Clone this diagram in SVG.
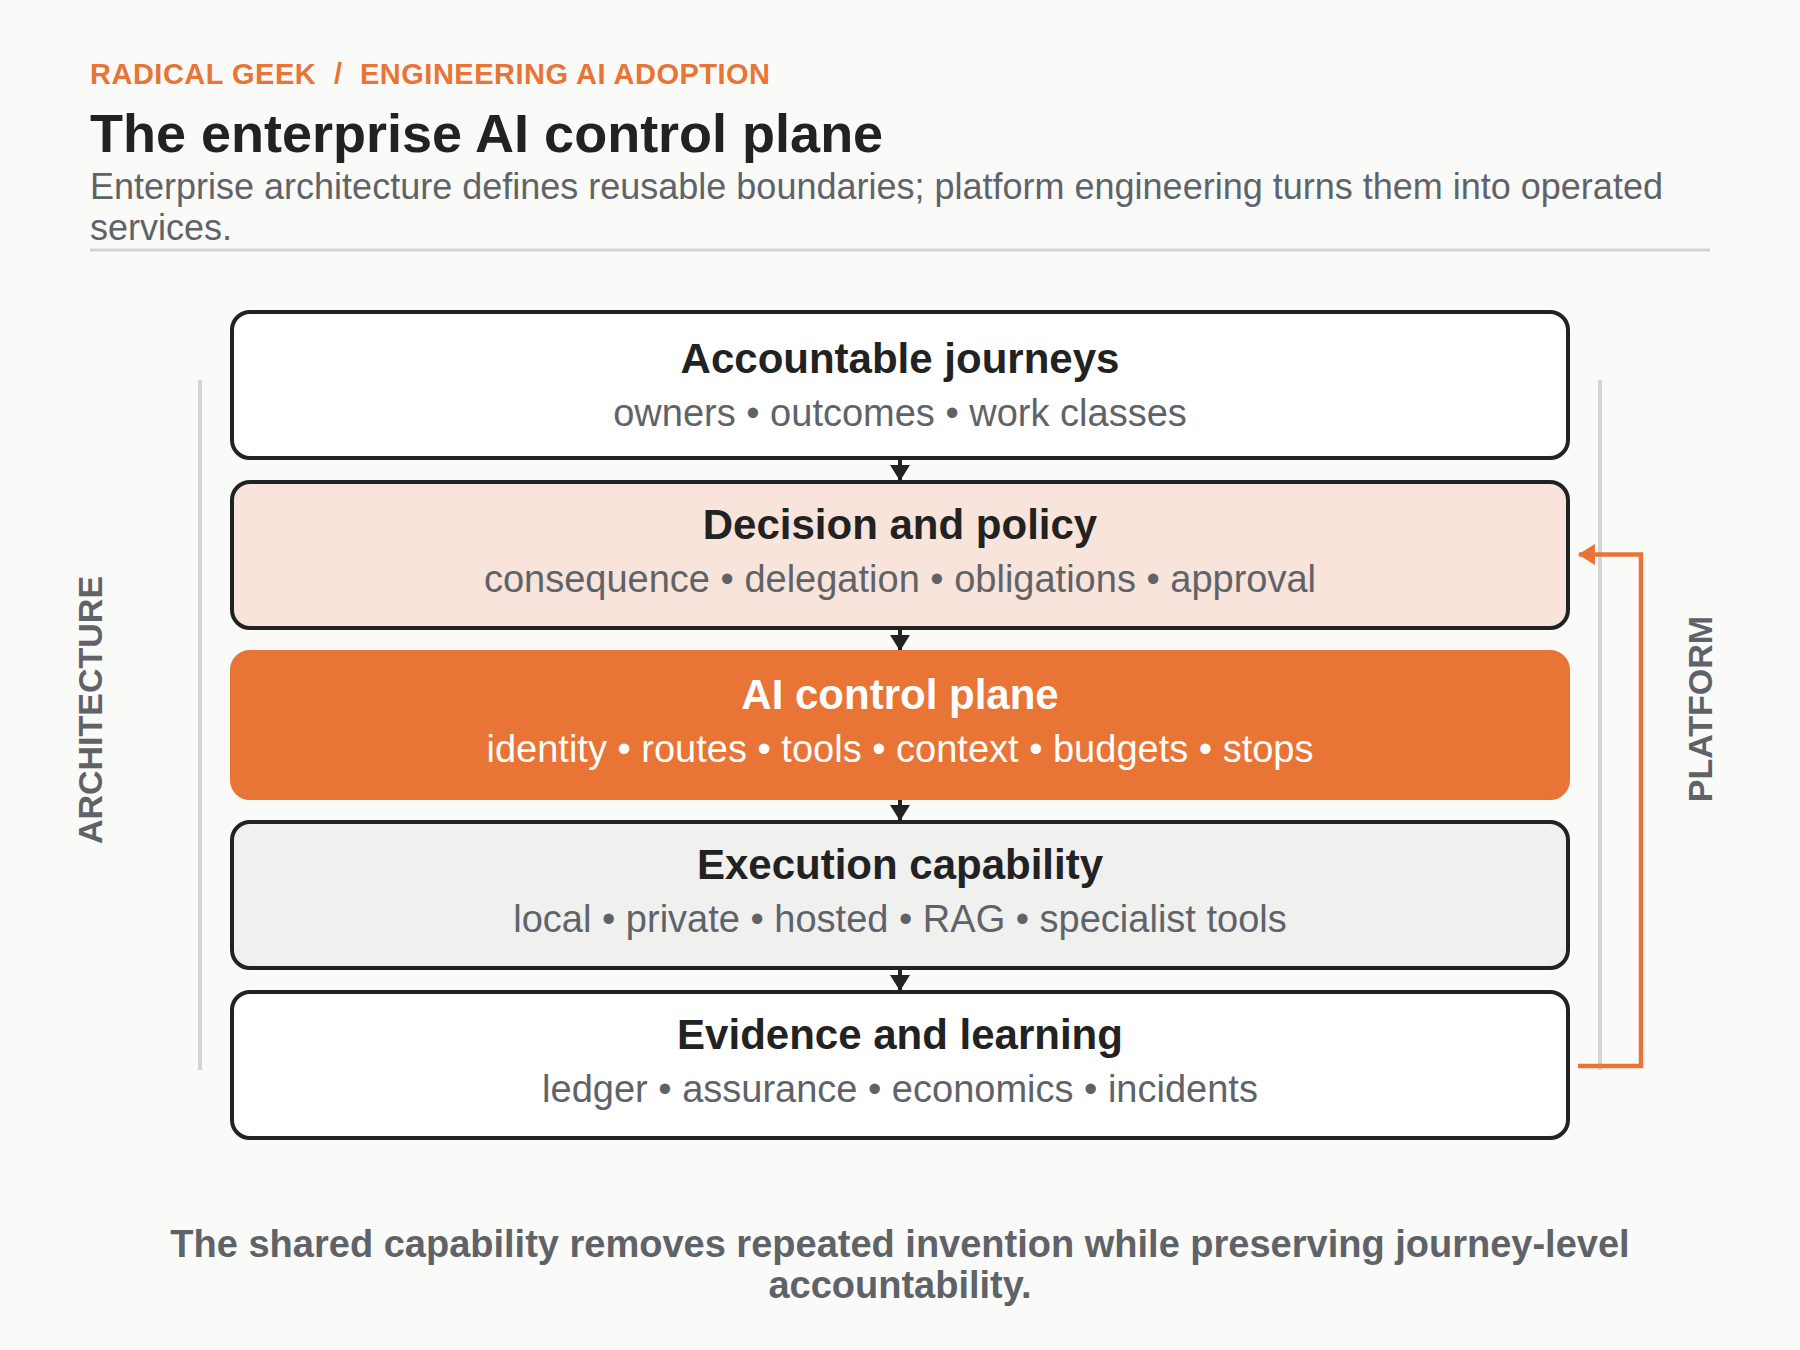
<svg xmlns="http://www.w3.org/2000/svg" width="1800" height="1350" viewBox="0 0 1800 1350">
<style>
text{font-family:"Liberation Sans",Arial,sans-serif}
.eyebrow{font-size:29px;font-weight:700;fill:#e87435;letter-spacing:0.5px}
.title{font-size:54px;font-weight:700;fill:#222222}
.sub{font-size:36px;fill:#5f6368}
.box{stroke:#222222;stroke-width:4}
.nt{font-size:42px;font-weight:700;fill:#222222;text-anchor:middle}
.ns{font-size:38px;fill:#5f6368;text-anchor:middle}
.side{font-size:34px;font-weight:700;fill:#5f6368;text-anchor:middle}
.foot{font-size:38px;font-weight:700;fill:#5f6368;text-anchor:middle}
.rail{stroke:#d4d4d4;stroke-width:4}
.flow{stroke:#222222;stroke-width:4;fill:none}
.loop{stroke:#e87435;stroke-width:4.5;fill:none}
</style>
<defs>
<marker id="ah" viewBox="0 0 16 20" markerUnits="userSpaceOnUse" markerWidth="16" markerHeight="20" refX="16" refY="10" orient="auto">
<path d="M0,0 L16,10 L0,20 z" fill="#222222"/>
</marker>
<marker id="ahO" viewBox="0 0 17 21" markerUnits="userSpaceOnUse" markerWidth="17" markerHeight="21" refX="16" refY="10.5" orient="auto">
<path d="M0,0 L17,10.5 L0,21 z" fill="#e87435"/>
</marker>
</defs>
<rect x="0" y="0" width="1800" height="1350" fill="#fafaf8"/>

<g id="header">
<text class="eyebrow" y="84"><tspan x="90">RADICAL GEEK</tspan><tspan x="334">/</tspan><tspan x="360">ENGINEERING AI ADOPTION</tspan></text>
<text class="title" x="90" y="152">The enterprise AI control plane</text>
<text class="sub" x="90" y="199">Enterprise architecture defines reusable boundaries; platform engineering turns them into operated</text>
<text class="sub" x="90" y="240">services.</text>
<line x1="90" y1="250" x2="1710" y2="250" stroke="#d4d4d4" stroke-width="3"/>
</g>

<g id="rails">
<line class="rail" x1="200" y1="380" x2="200" y2="1070"/>
<line class="rail" x1="1600" y1="380" x2="1600" y2="1070"/>
</g>

<g id="label-architecture">
<text class="side" transform="translate(89.5,710) rotate(-90)" x="0" y="12">ARCHITECTURE</text>
</g>
<g id="label-platform">
<text class="side" transform="translate(1700,709) rotate(-90)" x="0" y="12">PLATFORM</text>
</g>

<g id="connectors">
<line class="flow" x1="900" y1="460" x2="900" y2="481" marker-end="url(#ah)"/>
<line class="flow" x1="900" y1="630" x2="900" y2="651" marker-end="url(#ah)"/>
<line class="flow" x1="900" y1="800" x2="900" y2="821" marker-end="url(#ah)"/>
<line class="flow" x1="900" y1="970" x2="900" y2="991" marker-end="url(#ah)"/>
<path class="loop" d="M1578,1066 H1641 V554.5 H1579" marker-end="url(#ahO)"/>
</g>

<g id="node-journeys">
<rect class="box" x="232" y="312" width="1336" height="146" rx="18" fill="#ffffff"/>
<text class="nt" x="900" y="373">Accountable journeys</text>
<text class="ns" x="900" y="426">owners • outcomes • work classes</text>
</g>
<g id="node-policy">
<rect class="box" x="232" y="482" width="1336" height="146" rx="18" fill="#f8e4da"/>
<text class="nt" x="900" y="539">Decision and policy</text>
<text class="ns" x="900" y="592">consequence • delegation • obligations • approval</text>
</g>
<g id="node-control">
<rect x="232" y="652" width="1336" height="146" rx="18" fill="#e87435" stroke="#e87435" stroke-width="4"/>
<text class="nt" x="900" y="709" style="fill:#ffffff">AI control plane</text>
<text class="ns" x="900" y="762" style="fill:#ffffff">identity • routes • tools • context • budgets • stops</text>
</g>
<g id="node-execution">
<rect class="box" x="232" y="822" width="1336" height="146" rx="18" fill="#f0f0ef"/>
<text class="nt" x="900" y="879">Execution capability</text>
<text class="ns" x="900" y="932">local • private • hosted • RAG • specialist tools</text>
</g>
<g id="node-evidence">
<rect class="box" x="232" y="992" width="1336" height="146" rx="18" fill="#ffffff"/>
<text class="nt" x="900" y="1049">Evidence and learning</text>
<text class="ns" x="900" y="1102">ledger • assurance • economics • incidents</text>
</g>

<g id="footer">
<text class="foot" x="900" y="1257">The shared capability removes repeated invention while preserving journey-level</text>
<text class="foot" x="900" y="1298">accountability.</text>
</g>
</svg>
